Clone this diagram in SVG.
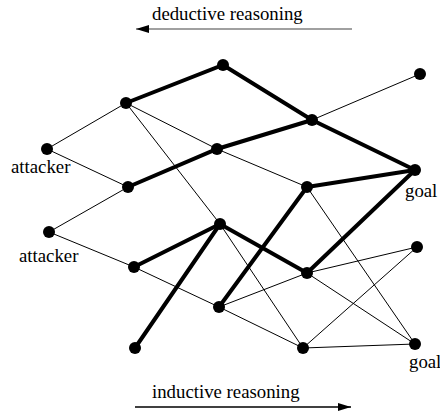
<svg xmlns="http://www.w3.org/2000/svg" width="440" height="413" viewBox="0 0 440 413">
  <style>
    .thin { stroke: #000; stroke-width: 1; fill: none; }
    .thick { stroke: #000; stroke-width: 4; fill: none; stroke-linecap: round; }
    .node { fill: #000; }
    text { font-family: 'Liberation Serif', 'DejaVu Serif', 'Times New Roman', serif; font-size: 18.8px; fill: #000; }
    .dir { stroke-width: 1.3; fill: none; }
  </style>
  <defs>
    <marker id="head" markerWidth="14" markerHeight="10" refX="13" refY="5" orient="auto" markerUnits="userSpaceOnUse">
      <path d="M0,1 L13,5 L0,9 Z" fill="#000"/>
    </marker>
  </defs>

  <!-- reasoning direction arrows -->
  <g id="deductive">
    <text x="152" y="20" font-family="Liberation Serif, serif">deductive reasoning</text>
    <line class="dir" style="stroke:#808080" x1="352" y1="29" x2="136" y2="29" marker-end="url(#head)"/>
  </g>
  <g id="inductive">
    <text x="152" y="398" font-family="Liberation Serif, serif">inductive reasoning</text>
    <line class="dir" style="stroke:#000" x1="135" y1="407" x2="351" y2="407" marker-end="url(#head)"/>
  </g>

  <!-- connectors -->
  <g id="connectors">
    <line class="thin" x1="47" y1="149" x2="126" y2="103"/>
    <line class="thin" x1="47" y1="149" x2="128" y2="187"/>
    <line class="thin" x1="126" y1="103" x2="217" y2="149"/>
    <line class="thin" x1="126" y1="103" x2="220" y2="224"/>
    <line class="thin" x1="312" y1="120" x2="420" y2="74"/>
    <line class="thin" x1="217" y1="149" x2="307" y2="187"/>
    <line class="thin" x1="49" y1="232" x2="128" y2="187"/>
    <line class="thin" x1="49" y1="232" x2="134" y2="267"/>
    <line class="thin" x1="134" y1="267" x2="219" y2="307"/>
    <line class="thin" x1="220" y1="224" x2="303" y2="348"/>
    <line class="thin" x1="307" y1="187" x2="415" y2="344"/>
    <line class="thin" x1="307" y1="273" x2="417" y2="247"/>
    <line class="thin" x1="307" y1="273" x2="415" y2="344"/>
    <line class="thin" x1="219" y1="307" x2="307" y2="273"/>
    <line class="thin" x1="219" y1="307" x2="303" y2="348"/>
    <line class="thin" x1="303" y1="348" x2="417" y2="247"/>
    <line class="thin" x1="303" y1="348" x2="415" y2="344"/>

    <polyline class="thick" points="126,103 223,65 312,120 415,170"/>
    <polyline class="thick" points="128,187 217,149 312,120"/>
    <line class="thick" x1="307" y1="187" x2="415" y2="170"/>
    <line class="thick" x1="219" y1="307" x2="307" y2="187"/>
    <line class="thick" x1="307" y1="273" x2="415" y2="170"/>
    <polyline class="thick" points="134,267 220,224 307,273"/>
    <line class="thick" x1="135" y1="348" x2="220" y2="224"/>
  </g>

  <!-- nodes -->
  <g id="n-top"><circle class="node" cx="223" cy="65" r="6"/></g>
  <g id="n-b"><circle class="node" cx="126" cy="103" r="6"/></g>
  <g id="n-c"><circle class="node" cx="420" cy="74" r="6"/></g>
  <g id="n-d"><circle class="node" cx="312" cy="120" r="6"/></g>
  <g id="attacker1">
    <circle class="node" cx="47" cy="149" r="6"/>
    <text x="11" y="173">attacker</text>
  </g>
  <g id="n-f"><circle class="node" cx="217" cy="149" r="6"/></g>
  <g id="n-g"><circle class="node" cx="128" cy="187" r="6"/></g>
  <g id="n-h"><circle class="node" cx="307" cy="187" r="6"/></g>
  <g id="goal1">
    <circle class="node" cx="415" cy="170" r="6"/>
    <text x="405" y="197">goal</text>
  </g>
  <g id="attacker2">
    <circle class="node" cx="49" cy="232" r="6"/>
    <text x="19" y="262">attacker</text>
  </g>
  <g id="n-k"><circle class="node" cx="220" cy="224" r="6"/></g>
  <g id="n-l"><circle class="node" cx="134" cy="267" r="6"/></g>
  <g id="n-m"><circle class="node" cx="307" cy="273" r="6"/></g>
  <g id="n-n"><circle class="node" cx="417" cy="247" r="6"/></g>
  <g id="n-o"><circle class="node" cx="219" cy="307" r="6"/></g>
  <g id="n-p"><circle class="node" cx="135" cy="348" r="6"/></g>
  <g id="n-q"><circle class="node" cx="303" cy="348" r="6"/></g>
  <g id="goal2">
    <circle class="node" cx="415" cy="344" r="6"/>
    <text x="409" y="368">goal</text>
  </g>
</svg>
